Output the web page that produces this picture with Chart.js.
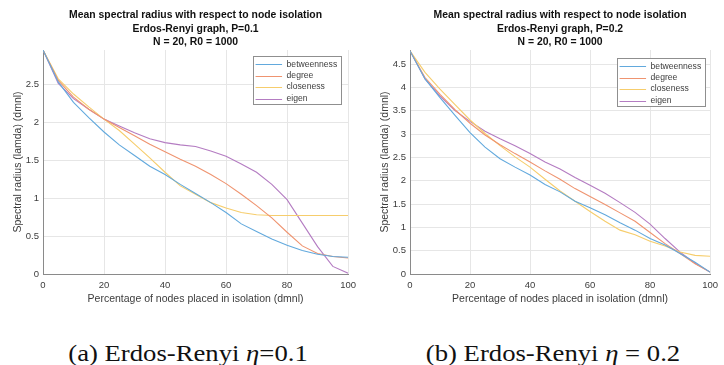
<!DOCTYPE html>
<html><head><meta charset="utf-8">
<script src="https://cdn.jsdelivr.net/npm/chart.js@4/dist/chart.umd.min.js"></script>
<style>
html,body{margin:0;padding:0;background:#fff;}
#wrap{position:relative;width:724px;height:365px;overflow:hidden;background:#fff;}
.cbox{position:absolute;top:0;width:362px;height:310px;}
.cap{position:absolute;font-family:"Liberation Serif","Times New Roman",serif;font-size:23px;color:#111;white-space:nowrap;transform:translate(-50%,-50%) scaleX(1.16);line-height:1;}
</style></head><body>
<div id="wrap">
<div class="cbox" style="left:0"><canvas id="c1" width="362" height="310"></canvas></div>
<div class="cbox" style="left:362px"><canvas id="c2" width="362" height="310"></canvas></div>
<div class="cap" id="capA" style="left:188px;top:353px">(a) Erdos-Renyi <i>η</i>=0.1</div>
<div class="cap" id="capB" style="left:553px;top:353px">(b) Erdos-Renyi <i>η</i> = 0.2</div>
</div>
<script>
// ---- data ----
const pct = [0,5,10,15,20,25,30,35,40,45,50,55,60,65,70,75,80,85,90,95,100];
const seriesNames = ["betweenness","degree","closeness","eigen"];

const titleA = ["Mean spectral radius with respect to node isolation","Erdos-Renyi graph, P=0.1","N = 20, R0 = 1000"];
const titleB = ["Mean spectral radius with respect to node isolation","Erdos-Renyi graph, P=0.2","N = 20, R0 = 1000"];
const xLabel = "Percentage of nodes placed in isolation (dmnl)";
const yLabel = "Spectral radius (lamda) (dmnl)";
const xTicks = [0,20,40,60,80,100];

const betweennessA = [2.95,2.53,2.26,2.06,1.87,1.70,1.56,1.42,1.31,1.18,1.06,0.94,0.81,0.66,0.56,0.46,0.38,0.31,0.26,0.23,0.22];
const degreeA      = [2.95,2.55,2.33,2.17,2.04,1.93,1.82,1.71,1.61,1.51,1.42,1.31,1.19,1.05,0.90,0.74,0.55,0.37,0.27,0.23,0.21];
const closenessA   = [2.95,2.57,2.37,2.20,2.04,1.89,1.71,1.53,1.34,1.16,1.05,0.94,0.87,0.81,0.78,0.77,0.77,0.77,0.77,0.77,0.77];
const eigenA       = [2.95,2.51,2.31,2.17,2.04,1.95,1.86,1.78,1.73,1.70,1.68,1.62,1.55,1.45,1.34,1.18,0.98,0.67,0.36,0.10,0.01];

const betweennessB = [4.78,4.18,3.78,3.40,3.03,2.72,2.47,2.29,2.12,1.92,1.76,1.56,1.42,1.27,1.10,0.94,0.76,0.62,0.44,0.25,0.04];
const degreeB      = [4.78,4.21,3.85,3.52,3.23,2.98,2.77,2.58,2.40,2.21,2.03,1.83,1.66,1.49,1.31,1.13,0.89,0.65,0.44,0.22,0.04];
const closenessB   = [4.78,4.32,3.96,3.63,3.30,3.01,2.75,2.51,2.29,2.03,1.78,1.56,1.34,1.13,0.94,0.84,0.70,0.60,0.47,0.40,0.38];
const eigenB       = [4.78,4.18,3.81,3.50,3.27,3.06,2.90,2.75,2.58,2.40,2.25,2.07,1.90,1.73,1.53,1.32,1.07,0.76,0.47,0.23,0.04];

// ---- styles ----
const colors = ["#62a9dd","#ef9470","#f6cd6c","#b47cc2"];
const FONT = '"Liberation Sans", Arial, Helvetica, sans-serif';
const TXT = '#3c3c3c';

const titlePlugin = {
  id:'mtitle',
  afterDraw(chart, args, opts){
    const ctx = chart.ctx, ca = chart.chartArea;
    const cx = (ca.left + ca.right)/2;
    ctx.save();
    ctx.font = 'bold 10.4px ' + FONT;
    ctx.fillStyle = '#111';
    ctx.textAlign = 'center';
    ctx.textBaseline = 'middle';
    opts.lines.forEach((t,i)=>ctx.fillText(t, cx, opts.y0 + i*opts.dy));
    ctx.restore();
  }
};

const legendPlugin = {
  id:'mlegend',
  afterDatasetsDraw(chart, args, opts){
    const ctx = chart.ctx, ca = chart.chartArea;
    const x1 = ca.right - opts.dx, x0 = x1 - opts.w, y0 = ca.top + opts.dy;
    ctx.save();
    ctx.fillStyle = '#fff';
    ctx.fillRect(x0, y0, opts.w, opts.h);
    ctx.strokeStyle = '#8f8f8f';
    ctx.lineWidth = 1;
    ctx.strokeRect(Math.round(x0)+0.5, Math.round(y0)+0.5, Math.round(opts.w), Math.round(opts.h));
    ctx.font = '8.6px ' + FONT;
    ctx.textAlign = 'left';
    ctx.textBaseline = 'middle';
    chart.data.datasets.forEach((d,i)=>{
      const yy = y0 + 8.3 + i*11.4;
      ctx.strokeStyle = d.borderColor;
      ctx.beginPath();
      ctx.moveTo(x0+2.5, Math.round(yy)+0.5);
      ctx.lineTo(x0+29, Math.round(yy)+0.5);
      ctx.stroke();
      ctx.fillStyle = TXT;
      ctx.fillText(d.label, x0+33.5, yy);
    });
    ctx.restore();
  }
};

function fmt(v){ return String(Math.round(v*10)/10); }

function makeChart(id, titles, series, ymax, yAxisW, yTitlePad, legDx, legDy){
  return new Chart(document.getElementById(id), {
    type:'line',
    data:{
      datasets: seriesNames.map((n,i)=>({
        label:n,
        data: pct.map((x,j)=>({x:x, y:series[i][j]})),
        borderColor: colors[i],
        backgroundColor: colors[i],
        borderWidth:1.1,
        pointRadius:0,
        tension:0,
        fill:false
      }))
    },
    plugins:[titlePlugin, legendPlugin],
    options:{
      responsive:false,
      devicePixelRatio:1,
      animation:false,
      layout:{padding:{top:50,right:8,bottom:0,left:0}},
      plugins:{
        legend:{display:false},
        title:{display:false},
        tooltip:{enabled:false},
        mtitle:{lines:titles, y0:15.5, dy:13.3},
        mlegend:{dx:legDx, dy:legDy, w:88, h:48}
      },
      scales:{
        x:{
          type:'linear', min:0, max:100,
          afterBuildTicks(s){ s.ticks = xTicks.map(v=>({value:v})); },
          ticks:{padding:6, color:TXT, font:{family:FONT,size:9.5}, maxRotation:0, autoSkip:false, callback:fmt},
          grid:{color:'#e6e6e6', drawTicks:false, lineWidth:1},
          border:{color:'#8a8a8a', width:1},
          title:{display:true, text:xLabel, color:TXT, font:{family:FONT,size:10.5}, padding:{top:0,bottom:4.7}},
          afterFit(s){ s.height = 36; }
        },
        y:{
          type:'linear', min:0, max:ymax,
          ticks:{stepSize:0.5, includeBounds:false, padding:4, color:TXT, font:{family:FONT,size:9.5}, callback:fmt},
          grid:{color:'#e6e6e6', drawTicks:false, lineWidth:1},
          border:{color:'#8a8a8a', width:1},
          title:{display:true, text:yLabel, color:TXT, font:{family:FONT,size:10.5}, padding:{top:yTitlePad,bottom:0}},
          afterFit(s){ s.width = yAxisW; }
        }
      }
    }
  });
}

makeChart('c1', titleA, [betweennessA,degreeA,closenessA,eigenA], 2.95, 43, 12, 7, 6);
makeChart('c2', titleB, [betweennessB,degreeB,closenessB,eigenB], 4.8, 48, 16.4, 5, 8);
</script>
</body></html>
